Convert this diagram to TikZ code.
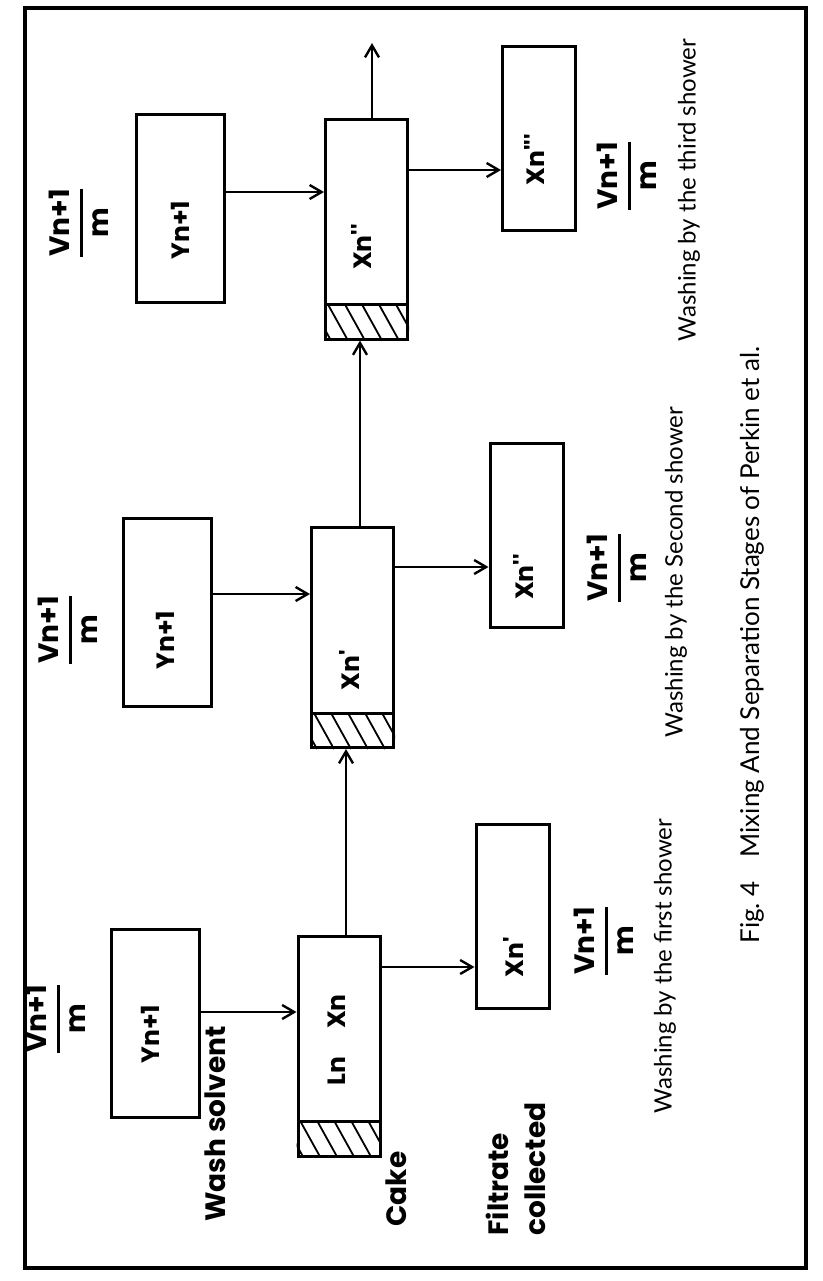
\documentclass[tikz,border=0pt]{standalone}
\usepackage{fontspec}
\usepackage{amsmath}
\setmainfont{Lato}
\newfontfamily\stencilfont{Poppins}
\usetikzlibrary{arrows.meta}

% fraction label used beside every stage
\newcommand{\vfrac}{$\genfrac{}{}{1.4pt}{0}{\mbox{Vn+1}}{\mbox{m}}$}

\begin{document}
\begin{tikzpicture}[x=0.5pt, y=-0.5pt,
  solvbox/.style={draw, line width=1.5pt, inner sep=0pt, minimum width=44pt, minimum height=94pt},
  cakebox/.style={draw, line width=1.5pt, inner sep=0pt, minimum width=41pt, minimum height=110pt},
  filtbox/.style={draw, line width=1.5pt, inner sep=0pt, minimum width=36.5pt, minimum height=92pt},
  flow/.style={line width=1.2pt, -{Straight Barb[length=6pt, width=7pt]}},
  lbl/.style={rotate=90, inner sep=0pt, font=\stencilfont\bfseries\fontsize{12.5}{15}\selectfont},
  tag/.style={rotate=90, inner sep=0pt, font=\stencilfont\bfseries\fontsize{14}{18.5}\selectfont},
  frac/.style={rotate=90, inner sep=0pt, font=\stencilfont\bfseries\fontsize{14}{16}\selectfont},
  note/.style={rotate=90, inner sep=0pt, font=\fontsize{12}{14}\selectfont},
]
  \useasboundingbox (0,0) rectangle (823,1281);

  % Marco
  \draw[line width=1.6pt] (25,8) rectangle (806,1268);

  % Cajas de las tres etapas
  \node[solvbox] (y3) at (180,208.5) {};
  \node[solvbox] (y2) at (167.5,612) {};
  \node[solvbox] (y1) at (155,1023) {};
  \node[cakebox] (x3) at (366.5,229) {};
  \node[cakebox] (x2) at (352.5,637.5) {};
  \node[cakebox] (x1) at (339,1046) {};
  \node[filtbox] (f3) at (539,138.5) {};
  \node[filtbox] (f2) at (526.5,535.5) {};
  \node[filtbox] (f1) at (512.5,916.5) {};

  % Torta rayada al pie de cada filtro
  \foreach \nm in {x1,x2,x3} {
    \draw[line width=1.5pt] ([yshift=18pt]\nm.south west) -- ([yshift=18pt]\nm.south east);
    \begin{scope}
      \clip (\nm.south west) rectangle ([yshift=18pt]\nm.south east);
      \foreach \k in {-1,...,5}
        \draw[line width=0.9pt] ([xshift=\k*8.5pt+2pt, yshift=18pt]\nm.south west) -- ++(20,36);
    \end{scope}
  }

  % Flujos
  \draw[flow] ([yshift=8.25pt]y3.east) coordinate (a3) -- (a3 -| x3.west);
  \draw[flow] ([yshift=29.5pt]x3.east) coordinate (b3) -- (b3 -| f3.west);
  \coordinate (out3) at (372,43);
  \draw[flow] (x3.north -| out3) -- (out3);
  \draw[flow] ([yshift=9pt]y2.east) coordinate (a2) -- (a2 -| x2.west);
  \draw[flow] ([yshift=35.25pt]x2.east) coordinate (b2) -- (b2 -| f2.west);
  \draw[flow] ([xshift=3.75pt]x2.north) coordinate (c2) -- (c2 |- x3.south);
  \draw[flow] ([yshift=5.5pt]y1.east) coordinate (a1) -- (a1 -| x1.west);
  \draw[flow] ([yshift=39.5pt]x1.east) coordinate (b1) -- (b1 -| f1.west);
  \draw[flow] ([xshift=3.5pt]x1.north) coordinate (c1) -- (c1 |- x2.south);

  % Etapa 3
  \node[lbl] (ty3) at (180,230) {Yn+1};
  \node[lbl] (tx3) at (361,247) {Xn\textquotesingle\textquotesingle};
  \node[lbl] (tf3) at (534,160) {Xn\textquotesingle\textquotesingle\textquotesingle};
  \node[frac] (v3) at (79,223) {\vfrac};
  \node[frac] (v3r) at (627,176) {\vfrac};
  \node[note] (w3) at (689,190) {Washing by the third shower};

  % Etapa 2
  \node[lbl] (ty2) at (165,640) {Yn+1};
  \node[lbl] (tx2) at (349,670) {Xn\textquotesingle};
  \node[lbl] (tf2) at (523,577) {Xn\textquotesingle\textquotesingle};
  \node[frac] (v2) at (68,630) {\vfrac};
  \node[frac] (v2r) at (617,568) {\vfrac};
  \node[note] (w2) at (676,572) {Washing by the Second shower};

  % Etapa 1
  \node[lbl] (ty1) at (150,1034) {Yn+1};
  \node[lbl] (tx1) at (337,1040) {Ln\hspace{14pt}Xn};
  \node[lbl] (tf1) at (513,957) {Xn\textquotesingle};
  \node[frac] (v1) at (56,1019) {\vfrac};
  \node[frac] (v1r) at (604,941) {\vfrac};
  \node[note] (w1) at (665,966) {Washing by the first shower};

  % Rotulos
  \node[tag] (solv) at (215,1124) {Wash solvent};
  \node[tag] (cake) at (396,1189) {Cake};
  \node[tag, align=left] (filt) at (516,1169) {Filtrate\\collected};

  % Pie de figura
  \node[note, font=\fontsize{13}{15}\selectfont] (cap) at (752,645)
    {Fig.~4\hspace{12pt}Mixing And Separation Stages of Perkin et al.};
\end{tikzpicture}
\end{document}
